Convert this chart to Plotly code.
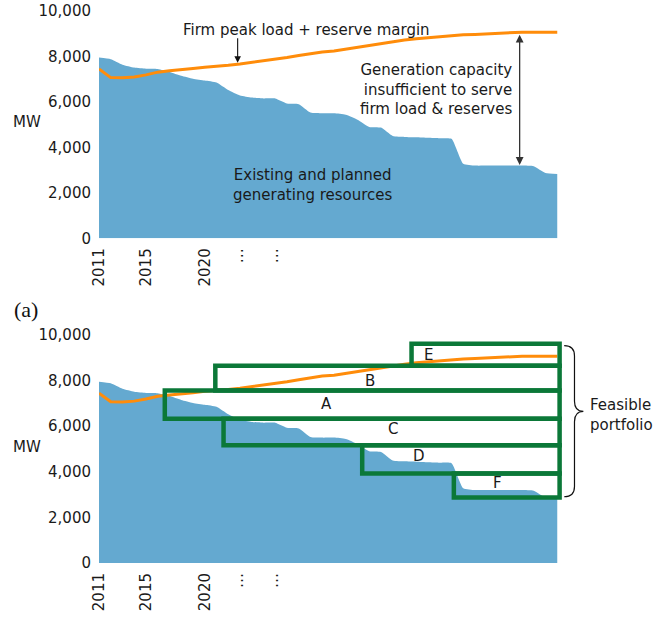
import plotly.graph_objects as go

# ---------------- data ----------------
years = list(range(2011, 2051))
resources = [7950, 7880, 7640, 7510, 7460, 7450, 7320, 7150, 7020, 6940,
             6850, 6520, 6280, 6190, 6155, 6150, 5930, 5900, 5530, 5500,
             5500, 5440, 5220, 4900, 4870, 4500, 4460, 4445, 4420, 4400,
             4380, 3280, 3200, 3200, 3200, 3200, 3200, 3170, 2870, 2830]
peak_load = [7450, 7070, 7060, 7100, 7190, 7310, 7370, 7410, 7470, 7530,
             7565, 7615, 7670, 7740, 7800, 7860, 7950, 8040, 8130, 8200,
             8240, 8320, 8400, 8480, 8570, 8660, 8720, 8780, 8830, 8870,
             8910, 8950, 8970, 9000, 9030, 9060, 9070, 9070, 9070, 9070]

portfolio_names = ['A', 'B', 'C', 'D', 'E', 'F']
portfolio_start = [2016.6, 2020.9, 2021.6, 2033.4, 2037.6, 2041.2]
portfolio_end = [2050.2, 2050.2, 2050.2, 2050.2, 2050.2, 2050.2]
portfolio_low = [6330, 7570, 5165, 3925, 8650, 2875]
portfolio_high = [7570, 8650, 6330, 5165, 9615, 3925]
label_x = [2030.4, 2034.1, 2036.0, 2038.2, 2039.0, 2044.9]
label_y = [6960, 7980, 5865, 4695, 9135, 3490]

x_tickvals = [2011, 2015, 2020, 2022.8, 2025.8]
x_ticktext = ['2011', '2015', '2020', '\u2026', '\u2026']
y_tickvals = [0, 2000, 4000, 6000, 8000, 10000]

BLUE = '#64a9d0'
ORANGE = '#ff8c0a'
GREEN = '#0b7838'
FONT = 'DejaVu Sans'
TXT = '#1a1a1a'
FS = 15

fig = go.Figure()

for xa, ya in (('x', 'y'), ('x2', 'y2')):
    fig.add_trace(go.Scatter(x=years, y=resources, mode='lines', fill='tozeroy',
                             fillcolor=BLUE, line=dict(color=BLUE, width=0, shape='spline',
                                                       smoothing=0.5),
                             xaxis=xa, yaxis=ya, hoverinfo='skip', showlegend=False))
    fig.add_trace(go.Scatter(x=years, y=peak_load, mode='lines',
                             line=dict(color=ORANGE, width=3),
                             xaxis=xa, yaxis=ya, hoverinfo='skip', showlegend=False))

# green portfolio outlines
for s, e, lo, hi in zip(portfolio_start, portfolio_end, portfolio_low, portfolio_high):
    fig.add_shape(type='rect', xref='x2', yref='y2', x0=s, x1=e, y0=lo, y1=hi,
                  line=dict(color=GREEN, width=4.5), fillcolor='rgba(0,0,0,0)', layer='above')

annotations = []
for n, lx, ly in zip(portfolio_names, label_x, label_y):
    annotations.append(dict(x=lx, y=ly, xref='x2', yref='y2', text=n, showarrow=False,
                            font=dict(family=FONT, size=FS, color=TXT)))

# top panel annotations
annotations += [
    dict(x=2028.7, y=9165, xref='x', yref='y', text='Firm peak load + reserve margin',
         showarrow=False, font=dict(family=FONT, size=FS, color=TXT)),
    dict(x=2022.8, y=7720, xref='x', yref='y', ax=2022.8, ay=8870, axref='x', ayref='y',
         text='', showarrow=True, arrowhead=2, arrowsize=1.2, arrowwidth=1.1, arrowcolor='#111'),
    dict(x=2046.8, y=3230, xref='x', yref='y', ax=2046.8, ay=9020, axref='x', ayref='y',
         text='', showarrow=True, arrowhead=2, startarrowhead=2, arrowside='end+start',
         arrowsize=1.2, startarrowsize=1.2, arrowwidth=1.3, arrowcolor='#333'),
    dict(x=2046.3, y=6530, xref='x', yref='y', xanchor='right', align='right',
         text='Generation capacity<br>insufficient to serve<br>firm load &amp; reserves',
         showarrow=False, font=dict(family=FONT, size=FS, color=TXT)),
    dict(x=2029.2, y=2345, xref='x', yref='y', align='center',
         text='Existing and planned<br>generating resources',
         showarrow=False, font=dict(family=FONT, size=FS, color=TXT)),
    dict(x=-0.153, y=5100, xref='paper', yref='y', xanchor='center', text='MW', showarrow=False,
         font=dict(family=FONT, size=FS, color=TXT)),
    dict(x=-0.153, y=5100, xref='paper', yref='y2', xanchor='center', text='MW', showarrow=False,
         font=dict(family=FONT, size=FS, color=TXT)),
    dict(x=1.045, y=6480, xref='paper', yref='y2', xanchor='left', align='left',
         text='Feasible<br>portfolio', showarrow=False,
         font=dict(family=FONT, size=FS, color=TXT)),
    dict(x=-0.156, y=0.46, xref='paper', yref='paper', xanchor='center', yanchor='middle',
         text='(a)', showarrow=False,
         font=dict(family='Liberation Serif', size=22, color='#111')),
]

# curly brace spanning the feasible portfolio
top = max(portfolio_high) - 80
bot = min(portfolio_low) + 30
mid = 6650
x0, x1, x2 = 0.994, 1.016, 1.035
d = 450
brace = (f'M {x0},{top} Q {x1},{top} {x1},{top-d} L {x1},{mid+d} '
         f'Q {x1},{mid} {x2},{mid} Q {x1},{mid} {x1},{mid-d} '
         f'L {x1},{bot+d} Q {x1},{bot} {x0},{bot}')
fig.add_shape(type='path', xref='paper', yref='y2', path=brace,
              line=dict(color='#111', width=1.2))

xaxis_common = dict(range=[2011, 2050.83], tickvals=x_tickvals, ticktext=x_ticktext,
                    tickangle=-90, showgrid=False, zeroline=False, showline=False,
                    ticks='', ticklabelstandoff=6, automargin=False,
                    tickfont=dict(family=FONT, size=FS, color=TXT))
yaxis_common = dict(range=[0, 10000], tickvals=y_tickvals, tickformat=',',
                    showgrid=False, zeroline=False, showline=False, ticks='',
                    ticklabelstandoff=7, automargin=False,
                    tickfont=dict(family=FONT, size=FS, color=TXT))

fig.update_layout(
    width=664, height=621,
    margin=dict(l=99, r=97, t=11, b=58),
    paper_bgcolor='white', plot_bgcolor='white',
    showlegend=False,
    xaxis=dict(domain=[0, 1], anchor='y', **xaxis_common),
    yaxis=dict(domain=[0.5882, 1], anchor='x', **yaxis_common),
    xaxis2=dict(domain=[0, 1], anchor='y2', **xaxis_common),
    yaxis2=dict(domain=[0, 0.4130], anchor='x2', **yaxis_common),
    annotations=annotations,
)

fig.write_html('out.html', config={'displayModeBar': False},
               post_script="document.body.style.margin='0px';document.body.style.padding='0px';")
